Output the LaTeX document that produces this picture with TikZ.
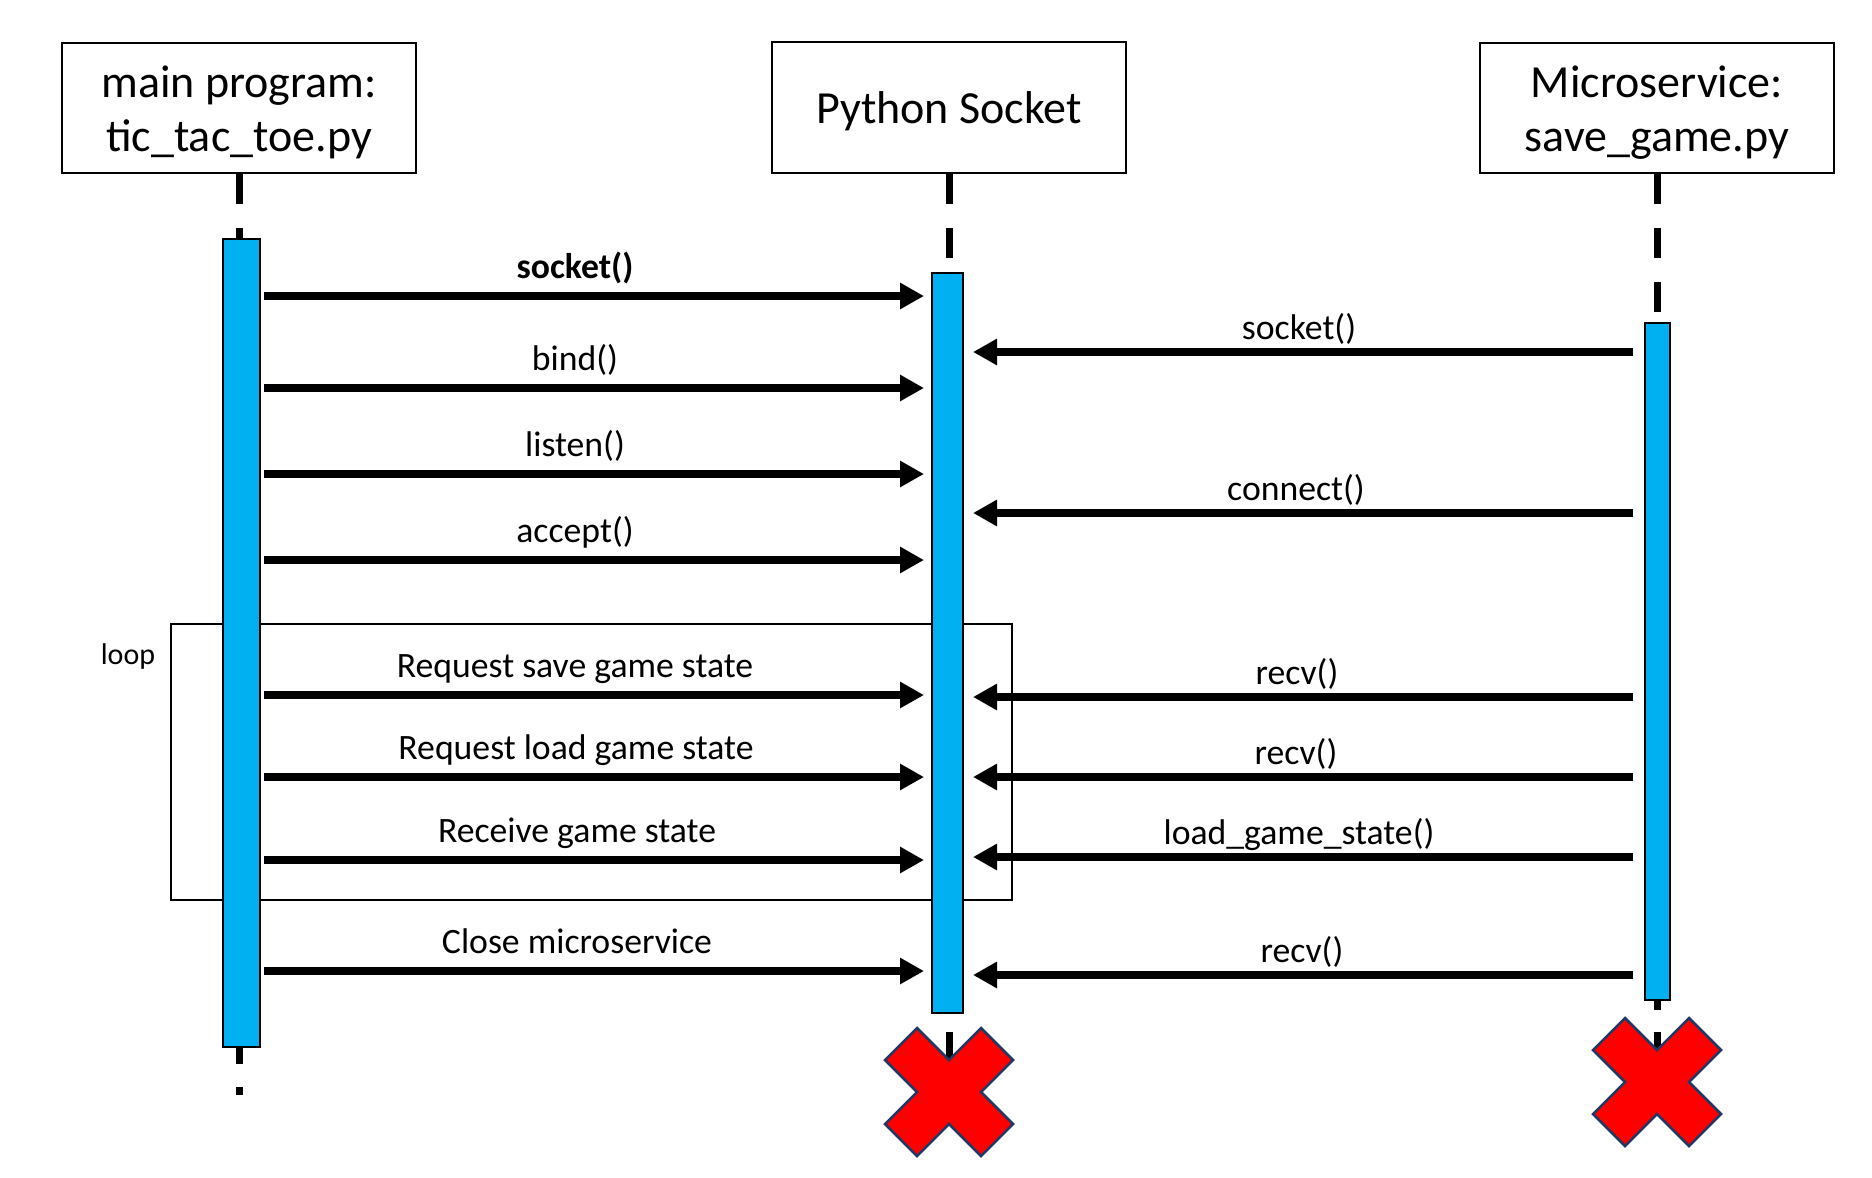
\documentclass[tikz,border=0pt]{standalone}
\usepackage{fontspec}
\setmainfont{Carlito}
\usetikzlibrary{arrows.meta}
\definecolor{barblue}{HTML}{00B0F0}
\definecolor{xred}{HTML}{FF0000}
\definecolor{xedge}{HTML}{1F3864}
\begin{document}
\begin{tikzpicture}[x=1pt,y=-1pt,
  lifebox/.style={draw=black, line width=2pt, minimum width=354pt, minimum height=130pt, inner sep=0pt},
  title/.style={font=\fontsize{46}{54}\selectfont, inner sep=0pt, anchor=base},
  lbl/.style={font=\fontsize{35.7}{42}\selectfont, inner sep=0pt, anchor=base},
  looplabel/.style={font=\fontsize{30}{36}\selectfont, inner sep=0pt, anchor=base},
  actbar/.style={draw=black, line width=2pt, fill=barblue, inner sep=0pt},
  lifeline/.style={line width=7pt, dash pattern=on 30pt off 24pt},
  lifeseg/.style={line width=7pt},
  msg/.style={line width=8.5pt, -{Triangle[length=24pt,width=25pt]}},
  xmark/.style={fill=xred, draw=xedge, line width=2.5pt, line join=miter},
  loopframe/.style={draw=black, line width=2pt, inner sep=0pt}
]
\useasboundingbox (0,0) rectangle (1872,1178);

% header boxes
\node[lifebox] (b1) at (239,108) {};
\node[lifebox, minimum height=131pt] (b2) at (949,107.5) {};
\node[lifebox] (b3) at (1657,108) {};
\node[title] (b1l1) at (239,97) {main program:};
\node[title] (b1l2) at (239,151) {tic\_tac\_toe.py};
\node[title] (b2l1) at (949,123) {Python Socket};
\node[title] (b3l1) at (1657,97) {Microservice:};
\node[title] (b3l2) at (1657,151) {save\_game.py};

% loop frame
\node[loopframe, minimum width=841pt, minimum height=276pt] (loopbox) at (591.5,762) {};
\node[looplabel] (looplbl) at (128,664) {loop};

% activation bars
\node[actbar, minimum width=37pt, minimum height=808pt] (bar1) at (241.5,643) {};
\node[actbar, minimum width=31pt, minimum height=740pt] (bar2) at (947.5,643) {};
\node[actbar, minimum width=25pt, minimum height=677pt] (bar3) at (1657.5,661.5) {};

% lifelines
\draw[lifeline] (b1.south) -- (b1.south |- bar1.north);
\draw[lifeline] (b2.south) -- (b2.south |- bar2.north);
\draw[lifeline] (b3.south) -- (b3.south |- bar3.north);
\draw[lifeline, dash pattern=on 16pt off 23pt] (b1.south |- bar1.south) -- ++(0,47);
\draw[lifeseg] (b2.south |- bar2.south) ++(0,18) -- ++(0,40);
\draw[lifeseg] (b3.south |- bar3.south) -- ++(0,9);
\draw[lifeseg] (b3.south |- bar3.south) ++(0,31) -- ++(0,30);

% message rows
\coordinate (mL1) at (0,296);
\coordinate (mL2) at (0,388);
\coordinate (mL3) at (0,474);
\coordinate (mL4) at (0,560);
\coordinate (mL5) at (0,695);
\coordinate (mL6) at (0,777);
\coordinate (mL7) at (0,860);
\coordinate (mL8) at (0,971);
\coordinate (mR1) at (0,352);
\coordinate (mR2) at (0,513);
\coordinate (mR3) at (0,697);
\coordinate (mR4) at (0,777);
\coordinate (mR5) at (0,857);
\coordinate (mR6) at (0,975);

\foreach \m in {mL1,mL2,mL3,mL4,mL5,mL6,mL7,mL8}
  \draw[msg, shorten <=3pt, shorten >=7pt] (bar1.east |- \m) -- (bar2.west |- \m);
\foreach \m in {mR1,mR2,mR3,mR4,mR5,mR6}
  \draw[msg, shorten <=11pt, shorten >=9pt] (bar3.west |- \m) -- (bar2.east |- \m);

% labels
\node[lbl] (lL1) at (575,278.5) {\bfseries socket()};
\node[lbl] (lL2) at (575,370.5) {bind()};
\node[lbl] (lL3) at (575,456.5) {listen()};
\node[lbl] (lL4) at (575,542.5) {accept()};
\node[lbl] (lL5) at (575,677.5) {Request save game state};
\node[lbl] (lL6) at (576,759.5) {Request load game state};
\node[lbl] (lL7) at (577,842.5) {Receive game state};
\node[lbl] (lL8) at (577,953.5) {Close microservice};
\node[lbl] (lR1) at (1299,339.5) {socket()};
\node[lbl] (lR2) at (1296,500.5) {connect()};
\node[lbl] (lR3) at (1297,684.5) {recv()};
\node[lbl] (lR4) at (1296,764.5) {recv()};
\node[lbl] (lR5) at (1299,844.5) {load\_game\_state()};
\node[lbl] (lR6) at (1302,962.5) {recv()};

% destruction marks
\filldraw[xmark, shift={(949,1092)}] (-64,-32) -- (-32,-64) -- (0,-32) -- (32,-64) -- (64,-32) -- (32,0) -- (64,32) -- (32,64) -- (0,32) -- (-32,64) -- (-64,32) -- (-32,0) -- cycle;
\filldraw[xmark, shift={(1657,1082)}] (-64,-32) -- (-32,-64) -- (0,-32) -- (32,-64) -- (64,-32) -- (32,0) -- (64,32) -- (32,64) -- (0,32) -- (-32,64) -- (-64,32) -- (-32,0) -- cycle;
\end{tikzpicture}
\end{document}
